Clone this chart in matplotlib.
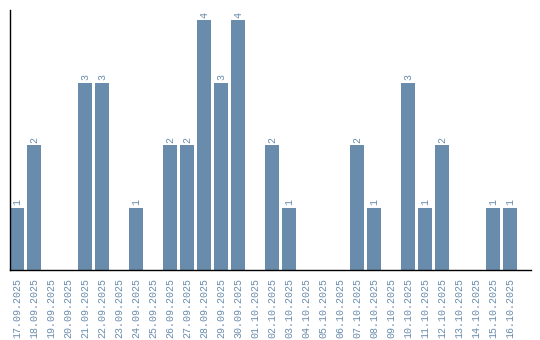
import matplotlib.pyplot as plt

# Daily counts
dates = ['17.09.2025', '18.09.2025', '19.09.2025', '20.09.2025', '21.09.2025',
         '22.09.2025', '23.09.2025', '24.09.2025', '25.09.2025', '26.09.2025',
         '27.09.2025', '28.09.2025', '29.09.2025', '30.09.2025', '01.10.2025',
         '02.10.2025', '03.10.2025', '04.10.2025', '05.10.2025', '06.10.2025',
         '07.10.2025', '08.10.2025', '09.10.2025', '10.10.2025', '11.10.2025',
         '12.10.2025', '13.10.2025', '14.10.2025', '15.10.2025', '16.10.2025']
counts = [1, 2, 0, 0, 3, 3, 0, 1, 0, 2, 2, 4, 3, 4, 0,
          2, 1, 0, 0, 0, 2, 1, 0, 3, 1, 2, 0, 0, 1, 1]

bar_color = '#6a8cac'
text_color = '#6a8cac'
mono = ['Liberation Mono', 'DejaVu Sans Mono']

fig = plt.figure(figsize=(5.4, 3.4), dpi=100)
ax = fig.add_axes([10 / 540, 70 / 340, 520.7 / 540, 260 / 340])

x = list(range(len(dates)))
ax.bar(x, counts, width=0.82, color=bar_color)

# Value labels above non-empty bars
for xi, c in zip(x, counts):
    if c > 0:
        ax.text(xi, c + 0.04, str(c), rotation=90, ha='center', va='bottom',
                fontsize=7.2, family=mono, color=text_color)

ax.set_xlim(-0.41, 30.22)
ax.set_ylim(0, 4.16)
ax.set_xticks(x)
ax.set_xticklabels(dates, rotation=90, fontsize=7.2, family=mono,
                   color=text_color)
ax.tick_params(axis='x', length=0, pad=6)
ax.set_yticks([])

for side in ['top', 'right']:
    ax.spines[side].set_visible(False)
ax.spines['left'].set_color('black')
ax.spines['bottom'].set_color('black')
ax.spines['left'].set_linewidth(1)
ax.spines['bottom'].set_linewidth(1)

fig.savefig('out.png', dpi=100)
